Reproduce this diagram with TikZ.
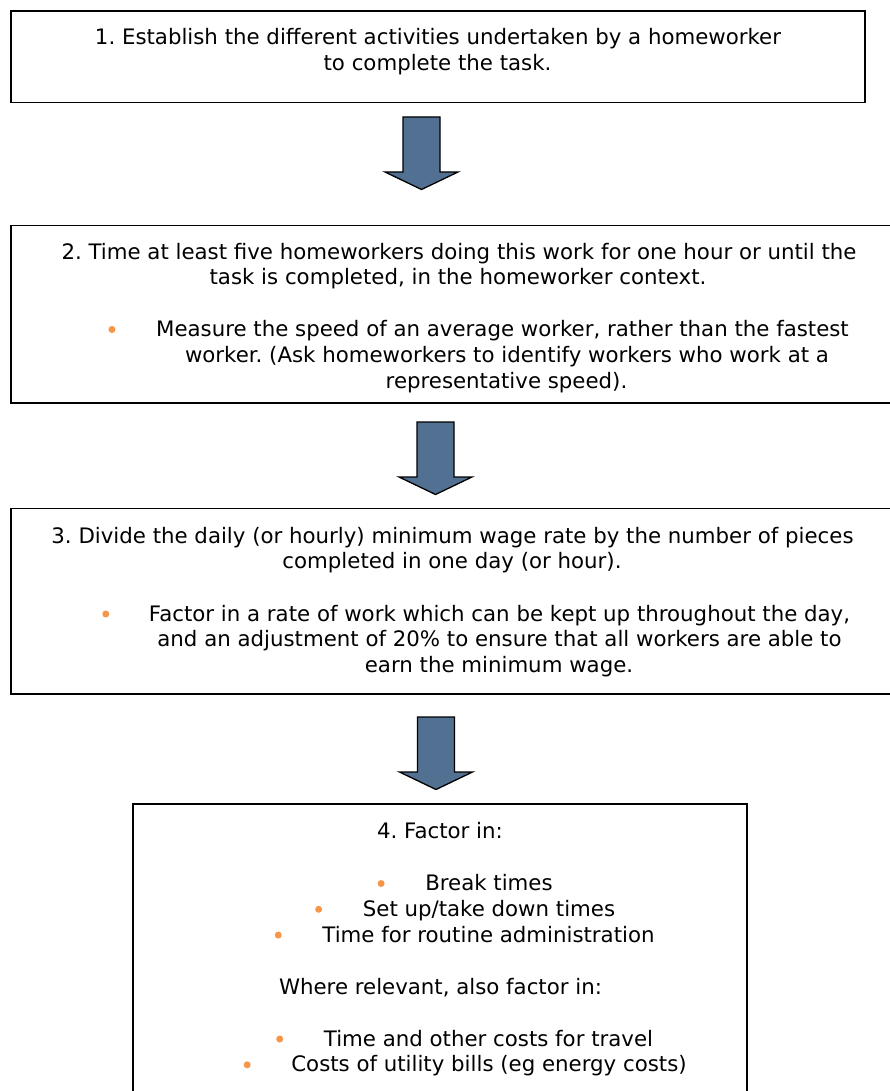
\documentclass[tikz,border=0pt]{standalone}
\usepackage{fontspec}
\setmainfont{DejaVu Sans}
\usetikzlibrary{calc}
\definecolor{arrowblue}{RGB}{82,112,145}
\definecolor{bulletorange}{RGB}{247,150,70}
\frenchspacing
\tikzset{
    stepbox/.style={draw, line width=1.6pt, inner sep=0pt},
    txt/.style={anchor=base, inner sep=0pt, font=\fontsize{21.3}{25.8}\selectfont\frenchspacing},
    dot/.style={circle, fill=bulletorange, minimum size=7pt, inner sep=0pt},
    blockarrow/.pic={\draw[fill=arrowblue, line width=1.3pt, line join=miter]
        (-18.5,0) -- (18.5,0) -- (18.5,55) -- (36.5,55) -- (0,72.5) -- (-36.5,55) -- (-18.5,55) -- cycle;}
}
\begin{document}
\begin{tikzpicture}[x=1pt, y=-1pt]
    \useasboundingbox (0,0) rectangle (890,1091);
    \clip (0,0) rectangle (890,1091);
    \node[stepbox, minimum width=854, minimum height=91.7] (s1) at (438,56.85) {};
    \node[stepbox, minimum width=896, minimum height=177.3] (s2) at (459,314.35) {};
    \node[stepbox, minimum width=883, minimum height=185.5] (s3) at (452.5,601.25) {};
    \node[stepbox, minimum width=614, minimum height=316] (s4) at (440,962) {};
    \pic at (421.5,117) {blockarrow};
    \pic at (435.5,422) {blockarrow};
    \pic at (436,717) {blockarrow};
    \node[txt] (s1a) at (438,44.5) {1. Establish the different activities undertaken by a homeworker};
    \node[txt] (s1b) at (437.5,70.3) {to complete the task.};
    \node[txt] (s2a) at (459,259.5) {2. Time at least five homeworkers doing this work for one hour or until the};
    \node[txt] (s2b) at (458,284.8) {task is completed, in the homeworker context.};
    \node[txt] (s2c) at (502.5,336.5) {Measure the speed of an average worker, rather than the fastest};
    \node[txt] (s2d) at (507,362.3) {worker. (Ask homeworkers to identify workers who work at a};
    \node[txt] (s2e) at (506.5,388.1) {representative speed).};
    \node[dot] (dot-s2c) at ($(s2c.base west)+(-44,-7)$) {};
    \node[txt] (s3a) at (452.5,543) {3. Divide the daily (or hourly) minimum wage rate by the number of pieces};
    \node[txt] (s3b) at (452,568.8) {completed in one day (or hour).};
    \node[txt] (s3c) at (499.5,621) {Factor in a rate of work which can be kept up throughout the day,};
    \node[txt] (s3d) at (499.5,646.8) {and an adjustment of 20\% to ensure that all workers are able to};
    \node[txt] (s3e) at (499,672.6) {earn the minimum wage.};
    \node[dot] (dot-s3c) at ($(s3c.base west)+(-43,-7)$) {};
    \node[txt] (s4a) at (440,838) {4. Factor in:};
    \node[txt] (s4b) at (489,890.5) {Break times};
    \node[txt] (s4c) at (489,916.3) {Set up/take down times};
    \node[txt] (s4d) at (488.5,942.1) {Time for routine administration};
    \node[txt] (s4e) at (440.5,994) {Where relevant, also factor in:};
    \node[txt] (s4f) at (488.5,1046) {Time and other costs for travel};
    \node[txt] (s4g) at (489,1071.8) {Costs of utility bills (eg energy costs)};
    \foreach \n in {s4b,s4c,s4d,s4f,s4g}
        \node[dot] (dot-\n) at ($(\n.base west)+(-44,-7)$) {};
\end{tikzpicture}
\end{document}
